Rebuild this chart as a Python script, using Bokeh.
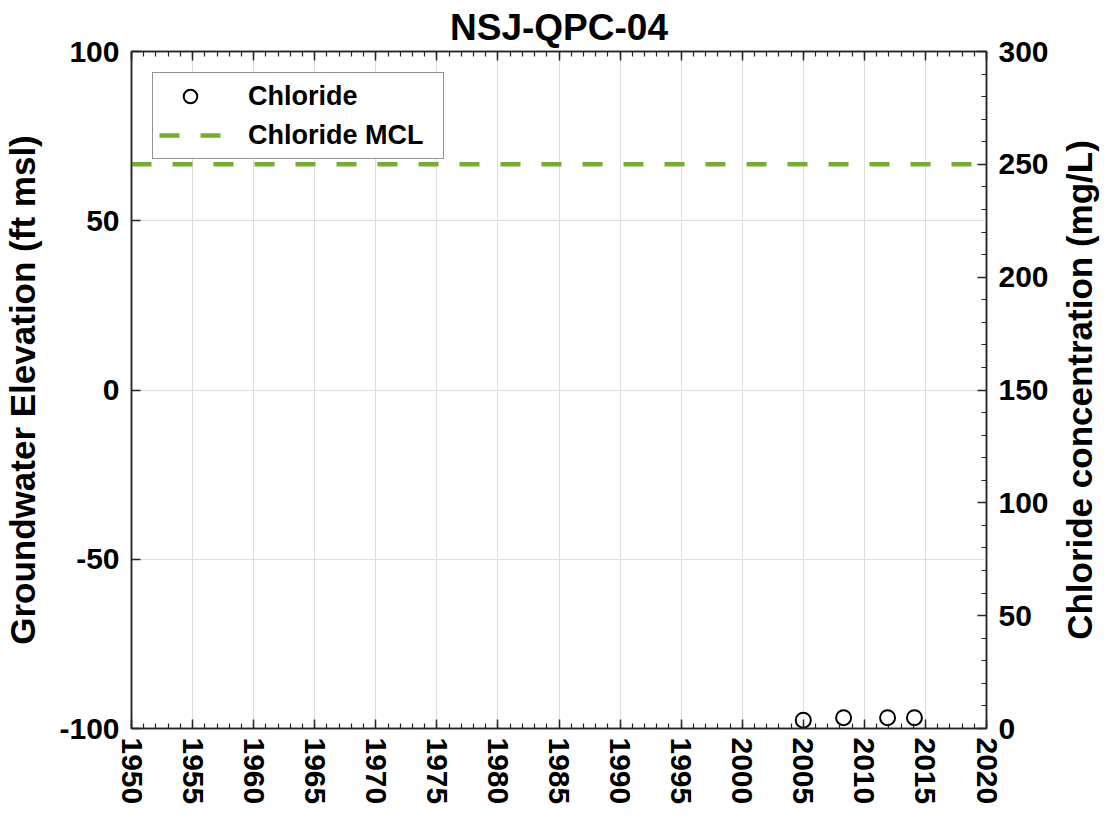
import math
from bokeh.plotting import figure
from bokeh.layouts import row
from bokeh.models import (Range1d, LinearAxis, SingleIntervalTicker, Legend, LegendItem,
                          CustomJSTickFormatter)
from bokeh.core.properties import value
from bokeh.embed import file_html
from bokeh.resources import INLINE

# ---- data ----
title_text = "NSJ-QPC-04"
left_label_text = "Groundwater Elevation (ft msl)"
right_label_text = "Chloride concentration (mg/L)"
chloride_years = [2005.0, 2008.3, 2011.9, 2014.1]
chloride_values = [3.7, 4.8, 4.8, 4.8]
mcl_value = 250
x_limits = [1950, 2020]
elev_limits = [-100, 100]
chl_limits = [0, 300]

FONT = "Liberation Sans"
AX = "#262626"
H = 825

p = figure(width=1058, height=H, output_backend="svg", toolbar_location=None,
           x_range=Range1d(*x_limits), y_range=Range1d(*elev_limits),
           min_border_left=122, min_border_top=43, min_border_right=72, min_border_bottom=82,
           title=title_text)
p.extra_y_ranges = {"chl": Range1d(*chl_limits)}
p.background_fill_color = "white"
p.border_fill_color = "white"
p.outline_line_color = AX
p.outline_line_width = 1.5

p.title.text_font = FONT
p.title.text_font_size = "37px"
p.title.text_font_style = "bold"
p.title.text_color = "black"
p.title.align = "center"
p.title.standoff = 8
p.title.offset = 0

fmt = CustomJSTickFormatter(code="return tick.toFixed(0);")

# bottom x axis
xa = p.xaxis[0]
xa.ticker = SingleIntervalTicker(interval=5, num_minor_ticks=5)
xa.major_label_orientation = -math.pi / 2
xa.formatter = fmt
# left y axis
ya = p.yaxis[0]
ya.ticker = SingleIntervalTicker(interval=50, num_minor_ticks=0)
ya.axis_label = left_label_text
ya.formatter = fmt

# right axis (its title is drawn in a narrow companion figure so it reads bottom-to-top)
ra = LinearAxis(y_range_name="chl",
                ticker=SingleIntervalTicker(interval=50, num_minor_ticks=5), formatter=fmt)
p.add_layout(ra, "right")
# top mirror axis
ta = LinearAxis(ticker=SingleIntervalTicker(interval=5, num_minor_ticks=5))
ta.major_label_text_font_size = "0px"
ta.major_label_standoff = 0
p.add_layout(ta, "above")

for ax in [xa, ya, ra, ta]:
    ax.axis_line_color = AX
    ax.axis_line_width = 1.5
    ax.major_tick_line_color = AX
    ax.minor_tick_line_color = AX
    ax.major_tick_line_width = 1.5
    ax.minor_tick_line_width = 1.2
    ax.major_tick_in = 9
    ax.major_tick_out = 0
    ax.minor_tick_in = 5
    ax.minor_tick_out = 0
    ax.axis_label_text_font = FONT
    ax.axis_label_text_font_size = "35px"
    ax.axis_label_text_font_style = "bold"
    ax.axis_label_text_color = "black"
    ax.major_label_text_font = FONT
    ax.major_label_text_font_style = "bold"
    ax.major_label_text_color = "black"
for ax in [xa, ya, ra]:
    ax.major_label_text_font_size = "30px"
    ax.major_label_standoff = 12
xa.major_label_standoff = 9
xa.axis_label_standoff = 0
ya.axis_label_standoff = 14
ta.axis_label_text_font_size = "0px"

p.xgrid[0].grid_line_color = "#dedede"
p.xgrid[0].grid_line_width = 1
p.xgrid[0].ticker = xa.ticker
p.ygrid[0].grid_line_color = "#dedede"
p.ygrid[0].grid_line_width = 1

# glyphs
r_chl = p.scatter(chloride_years, chloride_values, y_range_name="chl", marker="circle",
                  size=15, fill_color=None, line_color="black", line_width=2)
r_mcl = p.line(x_limits, [mcl_value, mcl_value], y_range_name="chl",
               line_color="#77AC30", line_width=4.5, line_dash="20 21")

legend = Legend(items=[LegendItem(label="Chloride", renderers=[r_chl]),
                       LegendItem(label="Chloride MCL", renderers=[r_mcl])],
                location="top_left", margin=21)
legend.label_text_font = FONT
legend.label_text_font_size = "27px"
legend.label_text_font_style = "bold"
legend.label_text_color = "black"
legend.border_line_color = AX
legend.border_line_width = 1.2
legend.background_fill_color = "white"
legend.background_fill_alpha = 1
legend.padding = 6
legend.spacing = 5
legend.glyph_width = 62
legend.glyph_height = 34
legend.label_height = 34
legend.label_width = 189
legend.label_standoff = 27
p.add_layout(legend)

# narrow companion figure holding the right-hand axis title
q = figure(width=42, height=H, output_backend="svg", toolbar_location=None,
           x_range=Range1d(-1, 1), y_range=Range1d(-1, 1),
           min_border_left=0, min_border_right=0, min_border_top=43, min_border_bottom=97)
q.axis.visible = False
q.grid.visible = False
q.outline_line_color = None
q.background_fill_color = "white"
q.border_fill_color = "white"
q.text(x=[0], y=[0], text=[right_label_text], angle=math.pi / 2,
       text_align="center", text_baseline="middle",
       text_font=value(FONT), text_font_size="35px", text_font_style="bold",
       text_color="black")

layout = row(p, q, spacing=0)
open("out.html", "w").write(file_html(layout, INLINE))
